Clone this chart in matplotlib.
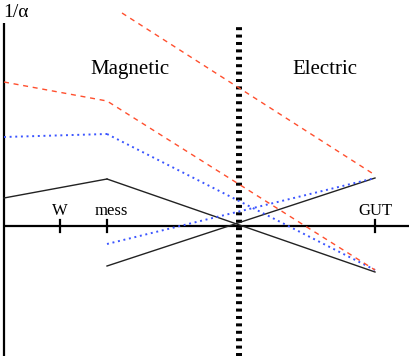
import matplotlib.pyplot as plt

plt.rcParams['font.family'] = ['Liberation Serif', 'DejaVu Serif']

# scale positions (horizontal, arbitrary log units)
x_W = 56
x_mess = 103
x_dual = 235
x_GUT = 371
x_end = 405

# 1/alpha values along each running coupling
black_low_x = [0, x_mess]
black_low_y = [28, 47]
black_down_x = [x_mess, x_GUT]
black_down_y = [47, -46]
black_up_x = [x_mess, x_GUT]
black_up_y = [-40, 48]

blue_low_x = [0, x_mess]
blue_low_y = [89, 92]
blue_down_x = [x_mess, x_GUT]
blue_down_y = [92, -44]
blue_up_x = [x_mess, x_GUT]
blue_up_y = [-18, 48]

red_top_x = [118, x_GUT]
red_top_y = [213, 51]
red_low_x = [0, x_mess, x_GUT]
red_low_y = [144, 125, -44]

tick_pos = [x_W, x_mess, x_GUT]
tick_labels = ['W', 'mess', 'GUT']

fig = plt.figure(figsize=(4.09, 3.56), dpi=100)
ax = fig.add_axes([0, 0, 1, 1])
ax.set_xlim(-4, 405)
ax.set_ylim(-130, 226)
ax.axis('off')

red = '#ff4f2e'
blue = '#3b55ff'

# axes
ax.plot([0, x_end], [0, 0], color='black', lw=1.6, solid_capstyle='butt')
ax.plot([0, 0], [-130, 203], color='black', lw=1.6, solid_capstyle='butt')
for xp, lab in zip(tick_pos, tick_labels):
    ax.plot([xp, xp], [-6, 6], color='black', lw=1.6)
    ax.text(xp + (4 if lab == 'mess' else 0), 11, lab, ha='center', va='baseline', fontsize=12)

# duality line
ax.plot([x_dual, x_dual], [-130, 199], color='black', lw=4.3,
        dashes=(0.5, 0.74), solid_capstyle='butt')

# couplings
ax.plot(black_low_x, black_low_y, color='#222222', lw=1.0)
ax.plot(black_down_x, black_down_y, color='#222222', lw=1.0)
ax.plot(black_up_x, black_up_y, color='#222222', lw=1.0)

ax.plot(blue_low_x, blue_low_y, color=blue, lw=1.4, dashes=(1.0, 1.9))
ax.plot(blue_down_x, blue_down_y, color=blue, lw=1.4, dashes=(1.0, 1.9))
ax.plot(blue_up_x, blue_up_y, color=blue, lw=1.4, dashes=(1.0, 1.9))

ax.plot(red_top_x, red_top_y, color=red, lw=1.0, dashes=(3.6, 3.4))
ax.plot(red_low_x, red_low_y, color=red, lw=1.0, dashes=(3.6, 3.4))

# labels
ax.text(-1, 209, '1/α', ha='left', va='baseline', fontsize=14)
ax.text(126, 152, 'Magnetic', ha='center', va='baseline', fontsize=15)
ax.text(321, 152, 'Electric', ha='center', va='baseline', fontsize=15)

fig.savefig('out.png', dpi=100)
